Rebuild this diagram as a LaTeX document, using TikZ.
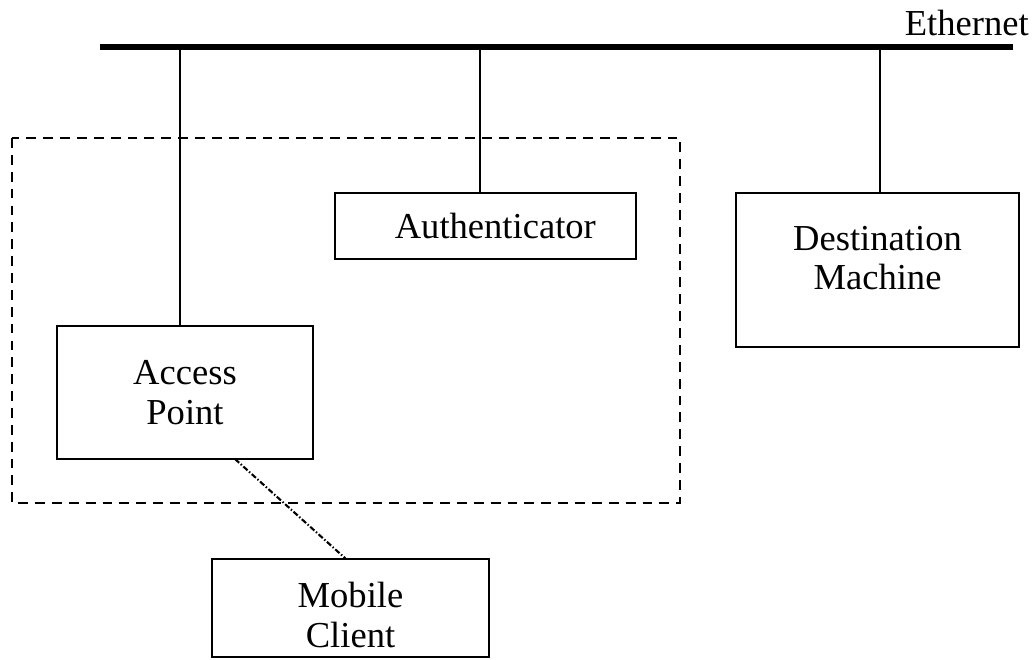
\documentclass[tikz,border=0pt]{standalone}
\usepackage{fontspec}
\setmainfont{Liberation Serif}
\usetikzlibrary{positioning,calc}

\begin{document}
\begin{tikzpicture}[x=0.025cm, y=-0.025cm,
    box/.style={rectangle, draw, line width=1.3pt, inner sep=0pt},
    boxtext/.style={align=center, inner sep=0pt, font=\fontsize{26}{28}\selectfont},
    wire/.style={line width=1pt},
    bus/.style={line width=3.6pt},
    zone/.style={line width=1.2pt, dash pattern=on 7pt off 5pt},
    radio/.style={line width=1.5pt, dash pattern=on 4pt off 1.5pt on 1pt off 1.5pt}]

    \useasboundingbox (0,0) rectangle (1032,659);

    % Ethernet bus
    \coordinate (ethL) at (100,47);
    \coordinate (ethR) at (1013,47);
    \draw[bus] (ethL) -- (ethR);
    \node[boxtext, anchor=base east] (ethlabel) at (1029,35) {Ethernet};

    % Secured zone
    \draw[zone] (12,138) rectangle (680,503);

    % Machines
    \node[box, minimum width=301*0.025cm, minimum height=66*0.025cm,
        label={[boxtext, xshift=7pt]center:Authenticator}] (auth) at (485.5,226) {};
    \node[box, minimum width=283*0.025cm, minimum height=154*0.025cm,
        label={[boxtext, yshift=8.5pt]center:Destination\\Machine}] (dest) at (877.5,270) {};
    \node[box, minimum width=256*0.025cm, minimum height=133*0.025cm,
        label={[boxtext]center:Access\\Point}] (ap) at (185,392.5) {};
    \node[box, minimum width=277*0.025cm, minimum height=98*0.025cm,
        label={[boxtext, yshift=-5pt]center:Mobile\\Client}] (mobile) at (350.5,608) {};

    % Taps on the bus
    \coordinate (tapAP) at (180,47);
    \coordinate (tapAuth) at (480,47);
    \coordinate (tapDest) at (880,47);
    \draw[wire] (tapAP) -- (tapAP |- ap.north);
    \draw[wire] (tapAuth) -- (tapAuth |- auth.north);
    \draw[wire] (tapDest) -- (tapDest |- dest.north);

    % Wireless link
    \coordinate (apLink) at (235,459);
    \coordinate (mobLink) at (346,559);
    \draw[radio] (apLink) -- (mobLink);

\end{tikzpicture}
\end{document}
